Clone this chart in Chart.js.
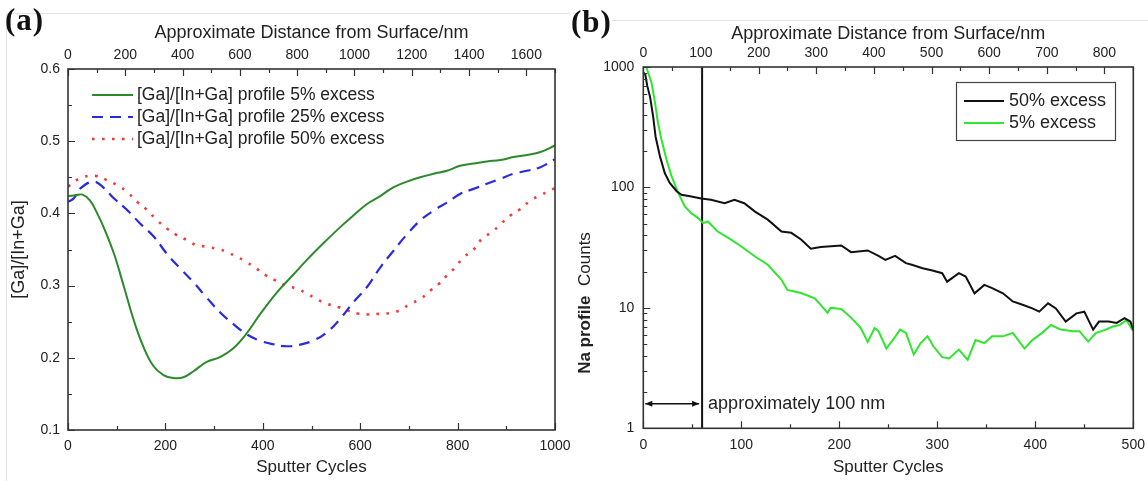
<!DOCTYPE html>
<html>
<head>
<meta charset="utf-8">
<script src="https://cdn.jsdelivr.net/npm/chart.js@4.4.1/dist/chart.umd.min.js"></script>
<style>
  html, body { margin: 0; padding: 0; background: #fff; }
  #wrap { position: relative; width: 1148px; height: 481px; overflow: hidden; }
  canvas { position: absolute; top: 0; }
  #ca { left: 0; }
  #cb { left: 570px; }
  .tag { position: absolute; font-family: "Liberation Serif", "DejaVu Serif", serif; font-weight: bold; font-size: 31px; letter-spacing: 1px; color: #111; }
  .rule { position: absolute; background: #e4e4e4; }
</style>
</head>
<body>
<div id="wrap">
  <div class="rule" style="left:6px;top:13px;width:564px;height:1px"></div>
  <div class="rule" style="left:6px;top:13px;width:1px;height:468px"></div>
  <div class="rule" style="left:612px;top:20px;width:536px;height:1px"></div>
  <canvas id="ca" width="575" height="481"></canvas>
  <canvas id="cb" width="578" height="481"></canvas>
  <div class="tag" style="left:5px;top:2px">(a)</div>
  <div class="tag" style="left:571px;top:4px">(b)</div>
</div>
<script>
// ---- panel (a): [Ga]/[In+Ga] depth profiles ----
const cycA5 = [0, 15, 30, 45, 60, 75, 95, 115, 135, 155, 175, 196, 216, 237, 257, 284, 312, 339, 366, 393, 427, 461, 494, 531, 559, 586, 614, 641, 668, 696, 723, 751, 778, 805, 833, 860, 888, 915, 942, 970, 1000];
const gaA5 = [0.424, 0.425, 0.426, 0.418, 0.400, 0.378, 0.343, 0.298, 0.252, 0.215, 0.189, 0.176, 0.172, 0.173, 0.181, 0.194, 0.201, 0.213, 0.233, 0.259, 0.289, 0.314, 0.338, 0.363, 0.381, 0.397, 0.413, 0.424, 0.436, 0.444, 0.450, 0.455, 0.459, 0.466, 0.469, 0.472, 0.474, 0.478, 0.481, 0.485, 0.494];

const cycA25 = [0, 12, 26, 53, 74, 94, 121, 148, 176, 203, 230, 257, 284, 312, 339, 366, 393, 420, 448, 475, 504, 531, 559, 586, 614, 641, 668, 696, 723, 751, 778, 805, 833, 860, 888, 915, 942, 970, 1000];
const gaA25 = [0.416, 0.421, 0.435, 0.444, 0.435, 0.421, 0.405, 0.386, 0.368, 0.344, 0.324, 0.305, 0.284, 0.263, 0.247, 0.233, 0.224, 0.219, 0.216, 0.218, 0.224, 0.235, 0.254, 0.277, 0.298, 0.325, 0.348, 0.371, 0.390, 0.404, 0.415, 0.427, 0.434, 0.441, 0.448, 0.455, 0.459, 0.464, 0.475];

const cycA50 = [0, 26, 56, 80, 101, 121, 142, 162, 182, 203, 223, 244, 264, 284, 305, 325, 346, 366, 386, 407, 427, 448, 468, 488, 511, 531, 556, 576, 597, 617, 641, 662, 682, 703, 723, 744, 761, 778, 795, 812, 833, 850, 870, 888, 908, 929, 950, 970, 990, 1000];
const gaA50 = [0.437, 0.449, 0.452, 0.446, 0.439, 0.430, 0.416, 0.405, 0.391, 0.379, 0.370, 0.363, 0.356, 0.354, 0.351, 0.347, 0.340, 0.333, 0.324, 0.314, 0.307, 0.300, 0.296, 0.290, 0.281, 0.275, 0.270, 0.265, 0.261, 0.260, 0.261, 0.262, 0.266, 0.275, 0.281, 0.293, 0.302, 0.314, 0.325, 0.339, 0.350, 0.365, 0.374, 0.385, 0.397, 0.406, 0.418, 0.425, 0.432, 0.435];

const labelsA = ['[Ga]/[In+Ga] profile 5% excess', '[Ga]/[In+Ga] profile 25% excess', '[Ga]/[In+Ga] profile 50% excess'];
const topTicksA = [0, 200, 400, 600, 800, 1000, 1200, 1400, 1600];

// ---- panel (b): Na counts ----
const cycB50 = [0, 2, 4, 7, 10, 12.5, 17, 22, 27, 34, 39, 49, 59, 69, 83, 93, 103, 114, 127, 141, 151, 161, 171, 181, 202, 212, 229, 240, 247, 257, 268, 274, 285, 295, 305, 310, 322, 329, 338, 348, 356, 367, 377, 387, 397, 404, 413, 421, 431, 442, 450, 459, 465, 475, 483, 491, 497, 500];
const naB50 = [900, 870, 700, 560, 390, 265, 181, 131, 109, 93, 87, 84, 81, 79, 74, 79, 74, 63, 54, 43, 42, 37, 31, 32, 33, 29, 30, 27, 25, 27, 23.5, 22.8, 21.3, 20.4, 19.4, 16.5, 19.4, 18.2, 13.2, 15.5, 14.6, 13.2, 11.3, 10.6, 9.9, 9.3, 10.9, 9.9, 7.7, 9.0, 9.3, 6.6, 7.7, 7.7, 7.5, 8.2, 7.7, 6.6];

const cycB5 = [0, 3, 8.5, 12, 15, 18.6, 23.7, 28.8, 35.6, 42.4, 49, 56, 61, 66, 76, 90, 100, 114, 127, 141, 147, 161, 175, 185, 188, 191, 202, 212, 222, 229, 236, 240, 248, 256, 262, 268, 276, 283, 290, 296, 305, 312, 322, 331, 339, 348, 356, 367, 377, 389, 397, 407, 416, 426, 438, 445, 454, 462, 472, 479, 486, 493, 500];
const naB5 = [1100, 1000, 736, 502, 343, 249, 170, 124, 90, 69.5, 61, 55.6, 50.5, 52.2, 43, 36.7, 32.3, 26.7, 22.8, 17.1, 14.1, 13.3, 12.0, 9.7, 9.1, 10, 9.8, 8.3, 6.8, 5.2, 6.8, 6.4, 4.6, 5.6, 6.6, 6.2, 4.1, 5.1, 5.8, 4.8, 3.9, 3.8, 4.5, 3.7, 5.4, 5.1, 5.8, 5.8, 6.2, 4.6, 5.4, 6.2, 7.2, 6.6, 6.4, 6.4, 5.25, 6.2, 6.6, 7.0, 7.2, 7.9, 6.4];

const labelsB = ['50% excess', '5% excess'];
const topTicksB = [0, 100, 200, 300, 400, 500, 600, 700, 800];
const logTicksB = [1, 10, 100, 1000];
const markerCycle = 60;   // ~100 nm
const arrowLevel = 1.6;

const FONT = '"Liberation Sans", Arial, Helvetica, sans-serif';
const INK = '#222';

function pts(xs, ys) { return xs.map((x, i) => ({ x, y: ys[i] })); }
function range(a, b, step) { const out = []; for (let v = a; v <= b + 1e-9; v += step) out.push(+v.toFixed(6)); return out; }

function tickMarks(chart, id, side, values, len) {
  const s = chart.scales[id], a = chart.chartArea, c = chart.ctx;
  c.beginPath();
  values.forEach(v => {
    const p = Math.round(s.getPixelForValue(v)) + 0.5;
    if (side === 'bottom') { c.moveTo(p, a.bottom); c.lineTo(p, a.bottom - len); }
    if (side === 'top') { c.moveTo(p, a.top); c.lineTo(p, a.top + len); }
    if (side === 'left') { c.moveTo(a.left, p); c.lineTo(a.left + len, p); }
  });
  c.stroke();
}

function frame(chart) {
  const a = chart.chartArea, c = chart.ctx;
  c.strokeStyle = '#333';
  c.lineWidth = 1.6;
  c.strokeRect(a.left, a.top, a.right - a.left, a.bottom - a.top);
  c.lineWidth = 1.2;
}

function legendLine(c, ds, x0, x1, y) {
  c.save();
  c.strokeStyle = ds.borderColor;
  c.lineWidth = ds.borderWidth;
  c.setLineDash(ds.borderDash || []);
  c.beginPath(); c.moveTo(x0, y); c.lineTo(x1, y); c.stroke();
  c.restore();
}

const decorA = {
  id: 'decorA',
  afterDatasetsDraw(chart) {
    const c = chart.ctx;
    c.save();
    frame(chart);
    tickMarks(chart, 'x', 'bottom', range(0, 1000, 200), 7);
    tickMarks(chart, 'x', 'bottom', range(100, 900, 200), 4);
    tickMarks(chart, 'xTop', 'top', topTicksA, 7);
    tickMarks(chart, 'xTop', 'top', range(100, 1700, 200), 4);
    tickMarks(chart, 'y', 'left', range(0.1, 0.6, 0.1), 7);
    tickMarks(chart, 'y', 'left', range(0.15, 0.55, 0.1), 4);
    // legend
    c.font = '17.5px ' + FONT;
    c.fillStyle = INK;
    c.textBaseline = 'middle';
    const rows = [95, 117, 139];
    chart.data.datasets.forEach((ds, i) => {
      legendLine(c, ds, 92, 133, rows[i]);
      c.fillText(ds.label, 137, rows[i]);
    });
    c.restore();
  }
};

const decorB = {
  id: 'decorB',
  afterDatasetsDraw(chart) {
    const c = chart.ctx, sx = chart.scales.x, sy = chart.scales.y;
    c.save();
    frame(chart);
    tickMarks(chart, 'x', 'bottom', range(0, 500, 100), 7);
    tickMarks(chart, 'x', 'bottom', range(50, 450, 100), 4);
    tickMarks(chart, 'xTop', 'top', topTicksB, 7);
    tickMarks(chart, 'xTop', 'top', range(50, 850, 100), 4);
    tickMarks(chart, 'y', 'left', logTicksB, 7);
    const minor = [];
    [1, 10, 100].forEach(d => { for (let k = 2; k <= 9; k++) minor.push(d * k); });
    tickMarks(chart, 'y', 'left', minor, 4);

    // arrow 0 -> marker
    const ya = sy.getPixelForValue(arrowLevel);
    const xa0 = sx.getPixelForValue(0) + 2, xa1 = sx.getPixelForValue(markerCycle) - 3;
    c.strokeStyle = '#111'; c.fillStyle = '#111'; c.lineWidth = 1.4;
    c.beginPath(); c.moveTo(xa0, ya); c.lineTo(xa1, ya); c.stroke();
    c.beginPath(); c.moveTo(xa0, ya); c.lineTo(xa0 + 7, ya - 3); c.lineTo(xa0 + 7, ya + 3); c.closePath(); c.fill();
    c.beginPath(); c.moveTo(xa1, ya); c.lineTo(xa1 - 7, ya - 3); c.lineTo(xa1 - 7, ya + 3); c.closePath(); c.fill();
    c.font = '18px ' + FONT;
    c.fillStyle = INK;
    c.textBaseline = 'middle';
    c.fillText('approximately 100 nm', sx.getPixelForValue(markerCycle) + 6, ya);

    // legend box
    c.strokeStyle = '#444'; c.lineWidth = 1.2;
    c.strokeRect(386.5, 82.5, 159, 58);
    const rows = [101, 123];
    chart.data.datasets.slice(0, 2).forEach((ds, i) => {
      legendLine(c, ds, 394, 434, rows[i]);
      c.fillText(ds.label, 439, rows[i]);
    });

    // y title with mixed weight
    c.translate(15, 303);
    c.rotate(-Math.PI / 2);
    c.textBaseline = 'middle';
    c.font = 'bold 17px ' + FONT;
    const w1 = c.measureText('Na profile  ').width;
    c.font = '17px ' + FONT;
    const w2 = c.measureText('Counts').width;
    const x0 = -(w1 + w2) / 2;
    c.font = 'bold 17px ' + FONT;
    c.fillText('Na profile', x0, 0);
    c.font = '17px ' + FONT;
    c.fillText('Counts', x0 + w1, 0);
    c.restore();
  }
};

const tickFont = { family: FONT, size: 14 };
const titleFont = { family: FONT, size: 18 };
const xTitleFont = { family: FONT, size: 17 };
function noLines() { return { grid: { display: false, drawTicks: false }, border: { display: false } }; }
function fixedTicks(list) { return s => { s.ticks = list.map(v => ({ value: v })); }; }

new Chart(document.getElementById('ca'), {
  type: 'line',
  data: {
    datasets: [
      { label: labelsA[0], data: pts(cycA5, gaA5), borderColor: '#2c8a2c', borderWidth: 2, pointRadius: 0, tension: 0.4, fill: false },
      { label: labelsA[1], data: pts(cycA25, gaA25), borderColor: '#2a2ae0', borderWidth: 2.2, borderDash: [11, 7], pointRadius: 0, tension: 0.4, fill: false },
      { label: labelsA[2], data: pts(cycA50, gaA50), borderColor: '#f03c3c', borderWidth: 2.6, borderDash: [2.6, 7.4], pointRadius: 0, tension: 0.4, fill: false }
    ]
  },
  options: {
    responsive: false, animation: false,
    layout: { padding: { left: 0, right: 20, top: 0, bottom: 0 } },
    plugins: { legend: { display: false }, tooltip: { enabled: false } },
    scales: {
      x: {
        type: 'linear', position: 'bottom', min: 0, max: 1000, ...noLines(),
        ticks: { stepSize: 200, color: INK, font: tickFont, padding: 8, maxRotation: 0, callback: v => String(v) },
        title: { display: true, text: 'Sputter Cycles', color: INK, font: xTitleFont, padding: { top: 0, bottom: 3 } },
        afterFit(s) { s.height = 51; s.paddingLeft = 0; s.paddingRight = 0; }
      },
      xTop: {
        type: 'linear', position: 'top', min: 0, max: 1700, ...noLines(),
        ticks: { color: INK, font: tickFont, padding: 5, maxRotation: 0, autoSkip: false, callback: v => String(v) },
        afterBuildTicks: fixedTicks(topTicksA),
        title: { display: true, text: 'Approximate Distance from Surface/nm', color: INK, font: titleFont, padding: { top: 22, bottom: 0 } },
        afterFit(s) { s.height = 69; s.paddingLeft = 0; s.paddingRight = 0; }
      },
      y: {
        type: 'linear', min: 0.1, max: 0.6, ...noLines(),
        ticks: { stepSize: 0.1, color: INK, font: tickFont, padding: 8, callback: v => v.toFixed(1) },
        title: { display: true, text: '[Ga]/[In+Ga]', color: INK, font: titleFont, padding: { top: 8, bottom: 0 } },
        afterFit(s) { s.width = 68; }
      }
    }
  },
  plugins: [decorA]
});

new Chart(document.getElementById('cb'), {
  type: 'line',
  data: {
    datasets: [
      { label: labelsB[0], data: pts(cycB50, naB50), borderColor: '#111111', borderWidth: 2, pointRadius: 0, tension: 0, fill: false },
      { label: labelsB[1], data: pts(cycB5, naB5), borderColor: '#2ee62e', borderWidth: 2, pointRadius: 0, tension: 0, fill: false },
      { label: 'marker', data: [{ x: markerCycle, y: 1 }, { x: markerCycle, y: 1000 }], borderColor: '#111111', borderWidth: 2, pointRadius: 0, fill: false }
    ]
  },
  options: {
    responsive: false, animation: false,
    layout: { padding: { left: 0, right: 14.7, top: 0, bottom: 0 } },
    plugins: { legend: { display: false }, tooltip: { enabled: false } },
    scales: {
      x: {
        type: 'linear', position: 'bottom', min: 0, max: 500, ...noLines(),
        ticks: { stepSize: 100, color: INK, font: tickFont, padding: 8, maxRotation: 0, callback: v => String(v) },
        title: { display: true, text: 'Sputter Cycles', color: INK, font: xTitleFont, padding: { top: 0, bottom: 3 } },
        afterFit(s) { s.height = 52.7; s.paddingLeft = 0; s.paddingRight = 0; }
      },
      xTop: {
        type: 'linear', position: 'top', min: 0, max: 850, ...noLines(),
        ticks: { color: INK, font: tickFont, padding: 5, maxRotation: 0, autoSkip: false, callback: v => String(v) },
        afterBuildTicks: fixedTicks(topTicksB),
        title: { display: true, text: 'Approximate Distance from Surface/nm', color: INK, font: titleFont, padding: { top: 23, bottom: 0 } },
        afterFit(s) { s.height = 67; s.paddingLeft = 0; s.paddingRight = 0; }
      },
      y: {
        type: 'logarithmic', min: 1, max: 1000, ...noLines(),
        ticks: { color: INK, font: tickFont, padding: 9, autoSkip: false, callback: v => String(v) },
        afterBuildTicks: fixedTicks(logTicksB),
        afterFit(s) { s.width = 73.3; }
      }
    }
  },
  plugins: [decorB]
});
</script>
</body>
</html>
